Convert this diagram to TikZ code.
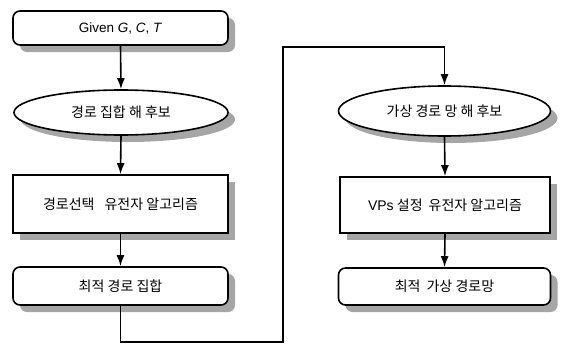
\documentclass[tikz,border=0pt]{standalone}
\usepackage{fontspec}
\setmainfont{Liberation Sans}
\newfontfamily\kr{Noto Sans CJK KR}
\usetikzlibrary{shapes.geometric,shadows,arrows.meta}
\tikzset{
  base/.style={draw=black, line width=1.6pt, fill=white, text=black,
    font=\fontsize{14}{16}\selectfont\kr, inner sep=0pt,
    drop shadow={shadow xshift=7pt, shadow yshift=-7pt, fill=black!35, opacity=1}},
  rbox/.style={base, rounded corners=7pt, rectangle},
  sbox/.style={base, rectangle},
  ebox/.style={base, ellipse},
  arr/.style={line width=1.6pt, -{Latex[length=11pt,width=8pt]}},
  con/.style={line width=1.6pt}
}
\begin{document}
\begin{tikzpicture}[x=1pt,y=-1pt]
\useasboundingbox (0,0) rectangle (561,345);
\node[rbox, minimum width=215pt, minimum height=34pt] (b1) at (120.5,28)
  {\fontsize{13.5}{16}\rmfamily Given \textit{G}, \textit{C}, \textit{T}};
\node[ebox, minimum width=214pt, minimum height=45pt] (e1) at (121,112.5) {경로 집합 해 후보};
\node[sbox, minimum width=215pt, minimum height=58pt] (r1) at (120.5,204) {경로선택\hspace{10pt}유전자 알고리즘};
\node[rbox, minimum width=215pt, minimum height=38pt] (b2) at (120.5,286) {최적 경로 집합};
\node[ebox, minimum width=212pt, minimum height=50pt] (e2) at (444.5,111) {가상 경로 망 해 후보};
\node[sbox, minimum width=210pt, minimum height=56pt] (r2) at (445,205) {{\rmfamily VPs} 설정\hspace{6pt}유전자 알고리즘};
\node[rbox, minimum width=212pt, minimum height=37pt] (b3) at (444.5,286.5) {최적\hspace{6pt}가상 경로망};
\coordinate (tA) at (283,342);
\coordinate (tB) at (283,47);
\draw[arr] (b1.south) -- (e1.north);
\draw[arr] (e1.south) -- (r1.north);
\draw[arr] (r1.south) -- (b2.north);
\draw[arr] (b2.south) |- (tA) -- (tB) -| (e2.north);
\draw[arr] (e2.south) -- (r2.north);
\draw[arr] (r2.south) -- (b3.north);
\end{tikzpicture}
\end{document}
